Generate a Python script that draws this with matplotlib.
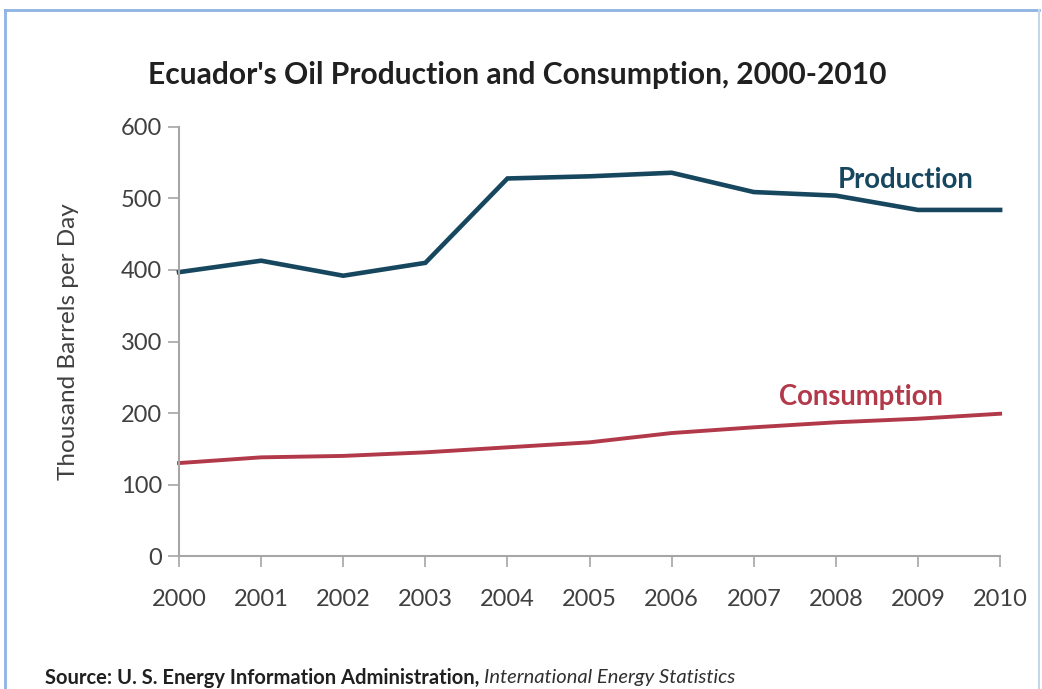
import matplotlib.pyplot as plt
from matplotlib.lines import Line2D

years = [2000, 2001, 2002, 2003, 2004, 2005, 2006, 2007, 2008, 2009, 2010]
production = [397, 413, 392, 410, 528, 531, 536, 509, 504, 484, 484]
consumption = [130, 138, 140, 145, 152, 159, 172, 180, 187, 192, 199]
y_ticks = [0, 100, 200, 300, 400, 500, 600]

prod_color = "#17475F"
cons_color = "#B2394A"
axis_grey = "#A6A6A6"
text_grey = "#404040"

plt.rcParams['font.family'] = ['Lato', 'DejaVu Sans']

fig = plt.figure(figsize=(10.42, 6.89), dpi=100)
ax = fig.add_axes([0.1718, 0.193, 0.788, 0.6227])

ax.plot(years, production, color=prod_color, lw=3.3, solid_joinstyle="miter", clip_on=False)
ax.plot(years, consumption, color=cons_color, lw=2.8, solid_joinstyle="miter", clip_on=False)

ax.set_xlim(2000, 2010)
ax.set_ylim(0, 600)
ax.set_xticks(years)
ax.set_yticks(y_ticks)
ax.tick_params(axis="both", colors=axis_grey, labelcolor=text_grey, labelsize=17,
               length=8, width=1.2, direction="out")
ax.tick_params(axis="x", pad=16)
ax.tick_params(axis="y", pad=4)
for side in ["top", "right"]:
    ax.spines[side].set_visible(False)
for side in ["left", "bottom"]:
    ax.spines[side].set_color(axis_grey)
    ax.spines[side].set_linewidth(1.5)

ax.set_ylabel("Thousand Barrels per Day", fontsize=17.5, color=text_grey, labelpad=30)

# series labels placed next to the lines
ax.text(2008.85, 526, "Production", color=prod_color, fontsize=19.8, fontweight="bold",
        ha="center", va="center")
ax.text(2008.3, 223, "Consumption", color=cons_color, fontsize=19.8, fontweight="bold",
        ha="center", va="center")

fig.text(0.496, 0.891, "Ecuador's Oil Production and Consumption, 2000-2010",
         fontsize=21.6, fontweight="bold", color="#202020", ha="center", va="center")

src = fig.text(0.043, 0.016, "Source: U. S. Energy Information Administration, ",
               fontsize=14.5, fontweight="bold", color="#202020", ha="left", va="center")
fig.canvas.draw()
bb = src.get_window_extent().transformed(fig.transFigure.inverted())
fig.text(bb.x1, 0.016, "International Energy Statistics", fontsize=14.5, style="italic",
         color="#303030", ha="left", va="center")

# light blue frame around the picture
border = "#8DB3E2"
fig.add_artist(Line2D([0.0045, 0.0045], [0.0, 0.986], color=border, lw=2, transform=fig.transFigure))
fig.add_artist(Line2D([0.0045, 0.997], [0.986, 0.986], color=border, lw=2, transform=fig.transFigure))
fig.add_artist(Line2D([0.997, 0.997], [0.0, 0.986], color="#C5D5EA", lw=1.5, transform=fig.transFigure))

fig.savefig("out.png", dpi=100, facecolor="white")
